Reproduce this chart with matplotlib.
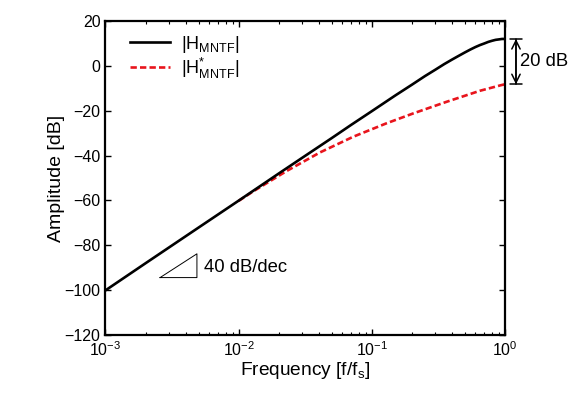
import matplotlib
matplotlib.use("Agg")
import matplotlib.pyplot as plt
from matplotlib.ticker import LogLocator, MultipleLocator, NullFormatter
import matplotlib.transforms as mtransforms

plt.rcParams['font.family'] = ['Liberation Sans', 'DejaVu Sans']
plt.rcParams['mathtext.fontset'] = 'custom'
plt.rcParams['mathtext.rm'] = 'Liberation Sans'
plt.rcParams['mathtext.it'] = 'Liberation Sans:italic'
plt.rcParams['mathtext.bf'] = 'Liberation Sans:bold'

# Data
freq_solid = [1e-3, 2e-3, 5e-3, 1e-2, 2e-2, 3e-2, 5e-2, 7e-2, 0.1, 0.15, 0.2, 0.25, 0.3,
              0.35, 0.4, 0.45, 0.5, 0.55, 0.6, 0.65, 0.7, 0.75, 0.8, 0.85, 0.9, 0.95, 1.0]
amp_solid = [-100.1, -88.0, -72.1, -60.1, -48.0, -41.0, -32.2, -26.3, -20.2, -13.2,
             -8.4, -4.6, -1.7, 0.8, 2.8, 4.5, 6.0, 7.3, 8.4, 9.3, 10.0, 10.7, 11.2,
             11.6, 11.8, 12.0, 12.0]

freq_red = [0.01, 0.0129, 0.0229, 0.0408, 0.0725, 0.129, 0.2046, 0.365, 0.649, 0.935, 1.0]
amp_red = [-60.2, -55.9, -46.9, -38.6, -31.6, -25.6, -21.2, -16.0, -11.1, -8.6, -8.2]

label_solid = r'|H$_{\mathregular{MNTF}}$|'
label_red = r'|H$^{*}_{\mathregular{MNTF}}$|'

fig = plt.figure(figsize=(5.87, 3.98), dpi=100)
ax = fig.add_axes([0.1797, 0.1583, 0.6806, 0.7889])

ax.semilogx(freq_solid, amp_solid, color='black', lw=1.9, label=label_solid, zorder=3)
ax.semilogx(freq_red, amp_red, color='#e8141c', lw=1.9, ls=(0, (2.4, 1.2)),
            label=label_red, zorder=2)

ax.set_xlim(1e-3, 1)
ax.set_ylim(-120, 20)
ax.yaxis.set_major_locator(MultipleLocator(20))
ax.xaxis.set_major_locator(LogLocator(base=10, numticks=10))
ax.xaxis.set_minor_locator(LogLocator(base=10, subs=range(2, 10), numticks=10))
ax.xaxis.set_minor_formatter(NullFormatter())

ax.tick_params(which='both', direction='in', top=True, right=True, labelsize=11.5)
ax.tick_params(which='major', length=4, width=1)
ax.tick_params(which='minor', length=2.5, width=0.8)
for s in ax.spines.values():
    s.set_linewidth(1.6)

ax.set_xlabel(r'Frequency [f/f$_{\mathregular{s}}$]', fontsize=13.8, labelpad=1)
ax.set_ylabel('Amplitude [dB]', fontsize=14, labelpad=0)

leg = ax.legend(loc='upper left', frameon=False, fontsize=13, handlelength=2.2,
                borderaxespad=0.3, labelspacing=0.05, handletextpad=0.6,
                bbox_to_anchor=(0.03, 1.0))

# 20 dB annotation
trans = mtransforms.blended_transform_factory(ax.transAxes, ax.transData)
ax.annotate('', xy=(1.0275, amp_solid[-1]), xytext=(1.0275, amp_red[-1]),
            xycoords=trans, textcoords=trans,
            arrowprops=dict(arrowstyle='|-|,widthA=0.4,widthB=0.4', lw=1.1, color='black',
                            shrinkA=0, shrinkB=0), annotation_clip=False)
ax.annotate('', xy=(1.0275, amp_solid[-1]), xytext=(1.0275, amp_red[-1]),
            xycoords=trans, textcoords=trans,
            arrowprops=dict(arrowstyle='<->,head_length=0.6,head_width=0.3', lw=1.1, color='black',
                            shrinkA=0, shrinkB=0), annotation_clip=False)
ax.text(1.038, (amp_solid[-1] + amp_red[-1]) / 2, '20 dB', transform=trans,
        fontsize=13.3, va='center', ha='left', clip_on=False)

# slope triangle
tri_x = [2.57e-3, 4.86e-3, 4.86e-3, 2.57e-3]
tri_y = [-94.4, -94.4, -83.8, -94.4]
ax.plot(tri_x, tri_y, color='black', lw=0.7)
ax.text(5.5e-3, -90.0, '40 dB/dec', fontsize=13.3, va='center', ha='left')

fig.savefig('out.png', dpi=100)
